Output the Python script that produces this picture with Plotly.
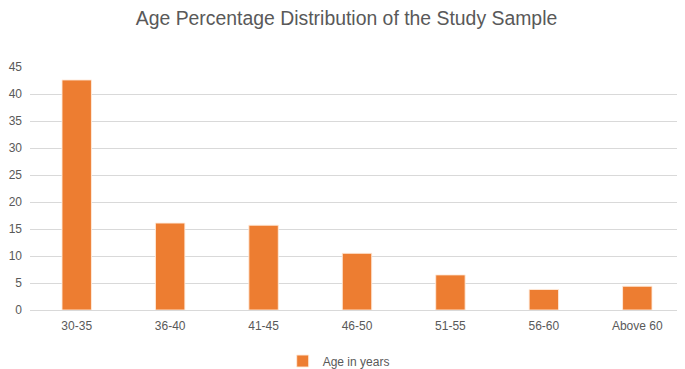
import plotly.graph_objects as go

categories = ["30-35", "36-40", "41-45", "46-50", "51-55", "56-60", "Above 60"]
values = [42.6, 16.1, 15.7, 10.5, 6.5, 3.8, 4.4]
series_name = "Age in years"
y_ticks = [0, 5, 10, 15, 20, 25, 30, 35, 40, 45]

FONT = "Liberation Sans"
GREY = "#595959"

fig = go.Figure()
fig.add_trace(go.Bar(
    x=categories, y=values, name=series_name,
    marker=dict(color="#ED7D31", line=dict(color="rgba(255,235,220,0.9)", width=1)),
    showlegend=True,
))

# page body has an 8px margin, so the figure is sized to the visible area
fig.update_layout(
    width=677, height=361,
    margin=dict(l=22, r=1, t=59, b=59, autoexpand=False),
    paper_bgcolor="white", plot_bgcolor="white",
    bargap=0.685,
    title=dict(text="Age Percentage Distribution of the Study Sample",
               x=0.5, xanchor="center", y=1 - 3 / 361, yanchor="top", pad=dict(t=0, b=0),
               font=dict(family=FONT, size=19.4, color=GREY)),
    font=dict(family=FONT, size=12, color=GREY),
    legend=dict(orientation="h", x=0.472, xanchor="center", y=-0.21, yanchor="middle",
                font=dict(family=FONT, size=12, color=GREY)),
    xaxis=dict(showgrid=False, showline=True, linecolor="#D9D9D9", linewidth=1,
               ticks="", tickfont=dict(size=12, color=GREY), ticklabelstandoff=5,
               automargin=False),
    yaxis=dict(range=[0, 45], tickvals=y_ticks, showgrid=True, gridcolor="#D9D9D9",
               gridwidth=1, zeroline=False, showline=False, ticks="",
               tickfont=dict(size=12, color=GREY), ticklabelstandoff=7,
               automargin=False),
)

fig.write_html("out.html")
